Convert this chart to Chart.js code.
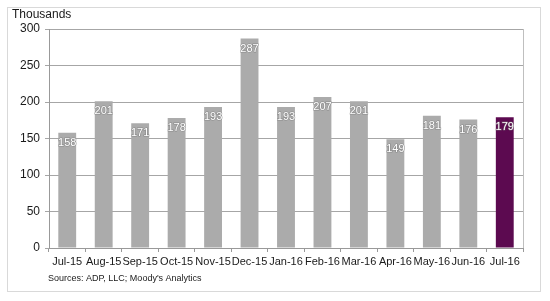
<!DOCTYPE html>
<html>
<head>
<meta charset="utf-8">
<script src="https://cdn.jsdelivr.net/npm/chart.js@4/dist/chart.umd.min.js"></script>
<style>
html,body{margin:0;padding:0;background:#fff;}
#wrap{width:550px;height:301px;position:relative;}
</style>
</head>
<body>
<div id="wrap"><canvas id="c" width="550" height="301"></canvas></div>
<script>
const categories = ["Jul-15","Aug-15","Sep-15","Oct-15","Nov-15","Dec-15","Jan-16","Feb-16","Mar-16","Apr-16","May-16","Jun-16","Jul-16"];
const jobs = [158,201,171,178,193,287,193,207,201,149,181,176,179];
const yTicks = [0,50,100,150,200,250,300];
const barColors = categories.map((c,i)=> i===categories.length-1 ? "#5C0A50" : "#ABABAB");

const frame = {
  id:'frame',
  beforeDraw(chart){
    const ctx = chart.ctx;
    ctx.save();
    ctx.fillStyle='#fff';
    ctx.fillRect(0,0,chart.width,chart.height);
    ctx.strokeStyle='#D9D9D9';
    ctx.lineWidth=1;
    ctx.strokeRect(7.5,7.5,533,284);
    ctx.restore();
  },
  afterDraw(chart){
    const ctx = chart.ctx, a = chart.chartArea;
    ctx.save();
    ctx.strokeStyle='#BFBFBF';
    ctx.lineWidth=1;
    ctx.beginPath();
    ctx.moveTo(Math.round(a.right)+0.5, a.top);
    ctx.lineTo(Math.round(a.right)+0.5, a.bottom);
    ctx.stroke();
    ctx.fillStyle='#1a1a1a';
    ctx.font='12px "Liberation Sans", Arial, sans-serif';
    ctx.textBaseline='middle';
    ctx.textAlign='left';
    ctx.fillText('Thousands',12,15);
    ctx.font='9px "Liberation Sans", Arial, sans-serif';
    ctx.fillText("Sources: ADP, LLC; Moody's Analytics",48,279);
    // data labels
    const meta = chart.getDatasetMeta(0);
    ctx.font='11px "Liberation Sans", Arial, sans-serif';
    ctx.textAlign='center';
    meta.data.forEach((bar,i)=>{
      const t = String(jobs[i]);
      ctx.lineWidth=1.2;
      ctx.strokeStyle='rgba(120,120,120,0.6)';
      ctx.strokeText(t, bar.x, bar.y+10);
      ctx.fillStyle='#fff';
      ctx.fillText(t, bar.x, bar.y+10);
    });
    ctx.restore();
  }
};

new Chart(document.getElementById('c'),{
  type:'bar',
  data:{labels:categories,datasets:[{data:jobs,backgroundColor:barColors,borderWidth:0,barPercentage:0.49,categoryPercentage:1}]},
  options:{
    responsive:false,animation:false,
    layout:{padding:{top:29,left:0,right:27,bottom:28}},
    plugins:{legend:{display:false},tooltip:{enabled:false}},
    scales:{
      x:{
        afterFit(s){s.height=25;},
        grid:{offset:true,drawOnChartArea:false,drawTicks:true,tickLength:4,color:'#999'},
        border:{color:'#999'},
        ticks:{color:'#1a1a1a',font:{family:'"Liberation Sans", Arial, sans-serif',size:11},maxRotation:0,autoSkip:false,padding:3}
      },
      y:{
        min:0,max:300,
        afterFit(s){s.width=49;},
        afterBuildTicks(s){s.ticks=yTicks.map(v=>({value:v}));},
        grid:{color:'#A6A6A6',drawTicks:true,tickLength:4},
        border:{color:'#999'},
        ticks:{color:'#1a1a1a',font:{family:'"Liberation Sans", Arial, sans-serif',size:12},padding:5}
      }
    }
  },
  plugins:[frame]
});
</script>
</body>
</html>
